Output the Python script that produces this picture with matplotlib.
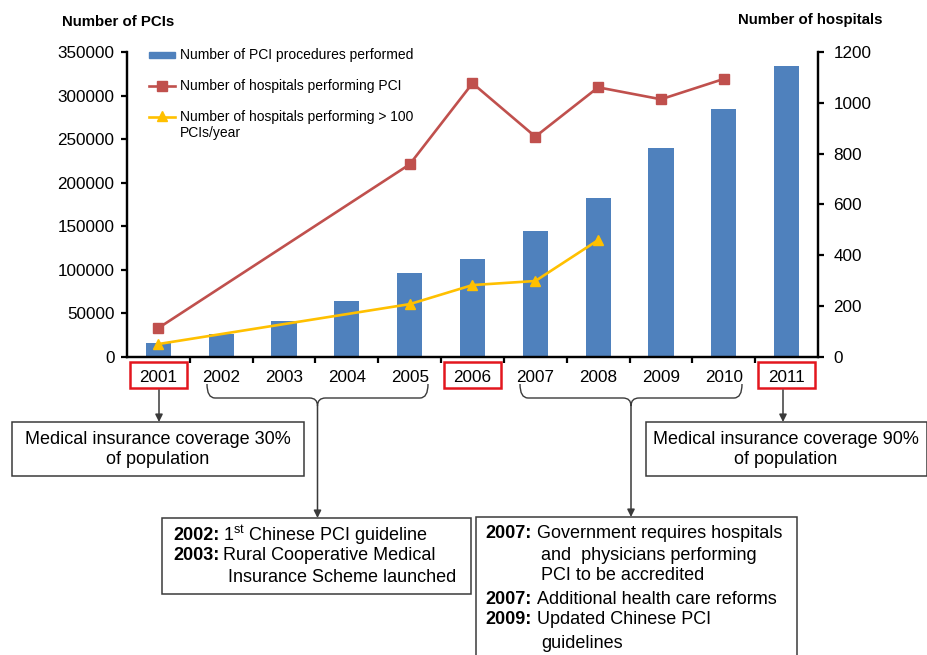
#!/usr/bin/env python3
"""PCI procedures and hospitals in China, 2001-2011, with policy timeline."""

import numpy as np
import matplotlib
matplotlib.use("Agg")
import matplotlib.pyplot as plt
from matplotlib.patches import Rectangle, PathPatch
from matplotlib.path import Path

plt.rcParams['font.family'] = ['Liberation Sans', 'DejaVu Sans']
plt.rcParams['mathtext.fontset'] = 'custom'
plt.rcParams['mathtext.rm'] = 'Liberation Sans'

# Data
years = ['2001', '2002', '2003', '2004', '2005', '2006',
         '2007', '2008', '2009', '2010', '2011']
pci_procedures = [16400, 26400, 41300, 64000, 96400, 113000,
                  145000, 182000, 240000, 285000, 334000]
hospitals_pci = [114, np.nan, np.nan, np.nan, 758, 1077,
                 867, 1061, 1014, 1094, np.nan]
hospitals_over100 = [51, np.nan, np.nan, np.nan, 208, 283,
                     299, 460, np.nan, np.nan, np.nan]
highlight_years = ['2001', '2006', '2011']

BLUE = '#4F81BD'
RED = '#C0504D'
YELLOW = '#FFC000'
BOXRED = '#E3161E'
GRAY = '#3A3A3A'

W, H = 928, 655
fig = plt.figure(figsize=(W / 100, H / 100), dpi=100)
ax = fig.add_axes([127 / W, 1 - 357 / H, (818 - 127) / W, (357 - 52) / H])
ax2 = ax.twinx()

x = np.arange(len(years))
ax.bar(x, pci_procedures, width=0.4, color=BLUE, zorder=2)

hp = np.array(hospitals_pci, dtype=float)
m = np.isfinite(hp)
ax2.plot(x[m], hp[m], color=RED, lw=1.9, marker='s', ms=6.5, zorder=3)
ho = np.array(hospitals_over100, dtype=float)
m = np.isfinite(ho)
ax2.plot(x[m], ho[m], color=YELLOW, lw=1.9, marker='^', ms=7.5, zorder=3)

ax.set_xlim(-0.5, len(years) - 0.5)
ax.set_ylim(0, 350000)
ax2.set_ylim(0, 1200)
ax.set_yticks(np.arange(0, 350001, 50000))
ax2.set_yticks(np.arange(0, 1201, 200))
ax.set_xticks(x)
ax.set_xticklabels(years)
ax.set_xticks(np.arange(0.5, len(years) - 1, 1), minor=True)

for a in (ax, ax2):
    a.spines['top'].set_visible(False)
    for s in a.spines.values():
        s.set_linewidth(1.6)
        s.set_color('black')
ax.tick_params(axis='y', direction='out', length=4, width=1.6, labelsize=12.3, pad=5)
ax2.tick_params(axis='y', direction='out', length=4, width=1.6, labelsize=12.3, pad=7)
ax.tick_params(axis='x', which='major', length=0, labelsize=12.3, pad=9)
ax.tick_params(axis='x', which='minor', direction='out', length=4, width=1.6)

# Red boxes around highlighted years
for yr in highlight_years:
    i = years.index(yr)
    ax.add_patch(Rectangle((i - 0.45, -0.102), 0.9, 0.086,
                           transform=ax.get_xaxis_transform(), clip_on=False,
                           fill=False, edgecolor=BOXRED, lw=1.8))

# Overlay in pixel coordinates for annotations
ov = fig.add_axes([0, 0, 1, 1], facecolor='none')
ov.set_xlim(0, W)
ov.set_ylim(H, 0)
ov.axis('off')

# Axis titles
ov.text(62, 22, 'Number of PCIs', fontsize=10.8, fontweight='bold', va='center')
ov.text(738, 20, 'Number of hospitals', fontsize=10.8, fontweight='bold', va='center')

# Legend drawn by hand
ov.add_patch(Rectangle((149, 52), 26, 6, color=BLUE))
ov.text(180, 55, 'Number of PCI procedures performed', fontsize=10, va='center')
ov.plot([149, 175], [86, 86], color=RED, lw=1.9)
ov.plot([162], [86], marker='s', color=RED, ms=6.5)
ov.text(180, 86, 'Number of hospitals performing PCI', fontsize=10, va='center')
ov.plot([149, 175], [117, 117], color=YELLOW, lw=1.9)
ov.plot([162], [116], marker='^', color=YELLOW, ms=7.5)
ov.text(180, 117, 'Number of hospitals performing > 100', fontsize=10, va='center')
ov.text(180, 133, 'PCIs/year', fontsize=10, va='center')


def bracket(x0, x1, top, mid):
    xc = (x0 + x1) / 2
    verts = [(x0, top), (x0, mid), (x0 + 8, mid), (xc - 8, mid), (xc, mid),
             (xc, mid + 8), (xc, mid), (xc + 8, mid), (x1 - 8, mid),
             (x1, mid), (x1, top)]
    codes = [Path.MOVETO, Path.CURVE3, Path.CURVE3, Path.LINETO, Path.CURVE3,
             Path.CURVE3, Path.CURVE3, Path.CURVE3, Path.LINETO,
             Path.CURVE3, Path.CURVE3]
    ov.add_patch(PathPatch(Path(verts, codes), fill=False, edgecolor=GRAY, lw=1))
    return xc, mid + 8


def arrow(xa, y0, y1):
    ov.annotate('', xy=(xa, y1), xytext=(xa, y0),
                arrowprops=dict(arrowstyle='-|>', color=GRAY, lw=1.1,
                                mutation_scale=11, shrinkA=0, shrinkB=0))


xc1, yb1 = bracket(207, 428, 384, 398)
xc2, yb2 = bracket(520, 742, 384, 398)
arrow(xc1, yb1, 518)
arrow(xc2, yb2, 517)
arrow(159, 390, 422)
arrow(783, 390, 422)


# Text boxes
def box(x0, y0, x1, y1):
    ov.add_patch(Rectangle((x0, y0), x1 - x0, y1 - y0, facecolor='white',
                           edgecolor=GRAY, lw=1.1, clip_on=False))


box(12, 422, 304, 476)
ov.text(158, 439, 'Medical insurance coverage 30%', fontsize=13, ha='center', va='center')
ov.text(158, 460, 'of population', fontsize=13, ha='center', va='center')

box(646, 422, 927, 476)
ov.text(786, 439, 'Medical insurance coverage 90%', fontsize=13, ha='center', va='center')
ov.text(786, 460, 'of population', fontsize=13, ha='center', va='center')

box(162, 518, 471, 594)
ov.text(173, 535, '2002:', fontsize=13, fontweight='bold', va='center')
ov.text(223, 535, r'1$^{\rm st}$ Chinese PCI guideline', fontsize=13, va='center')
ov.text(173, 556, '2003:', fontsize=13, fontweight='bold', va='center')
ov.text(223, 556, 'Rural Cooperative Medical', fontsize=13, va='center')
ov.text(228, 578, 'Insurance Scheme launched', fontsize=13, va='center')

box(476, 517, 797, 665)
ov.text(485, 534, '2007:', fontsize=13, fontweight='bold', va='center')
ov.text(537, 534, 'Government requires hospitals', fontsize=13, va='center')
ov.text(541, 556, 'and  physicians performing', fontsize=13, va='center')
ov.text(541, 576, 'PCI to be accredited', fontsize=13, va='center')
ov.text(485, 599, '2007:', fontsize=13, fontweight='bold', va='center')
ov.text(537, 599, 'Additional health care reforms', fontsize=13, va='center')
ov.text(485, 620, '2009:', fontsize=13, fontweight='bold', va='center')
ov.text(537, 620, 'Updated Chinese PCI', fontsize=13, va='center')
ov.text(541, 643, 'guidelines', fontsize=13, va='center')

fig.savefig('out.png', dpi=100)
